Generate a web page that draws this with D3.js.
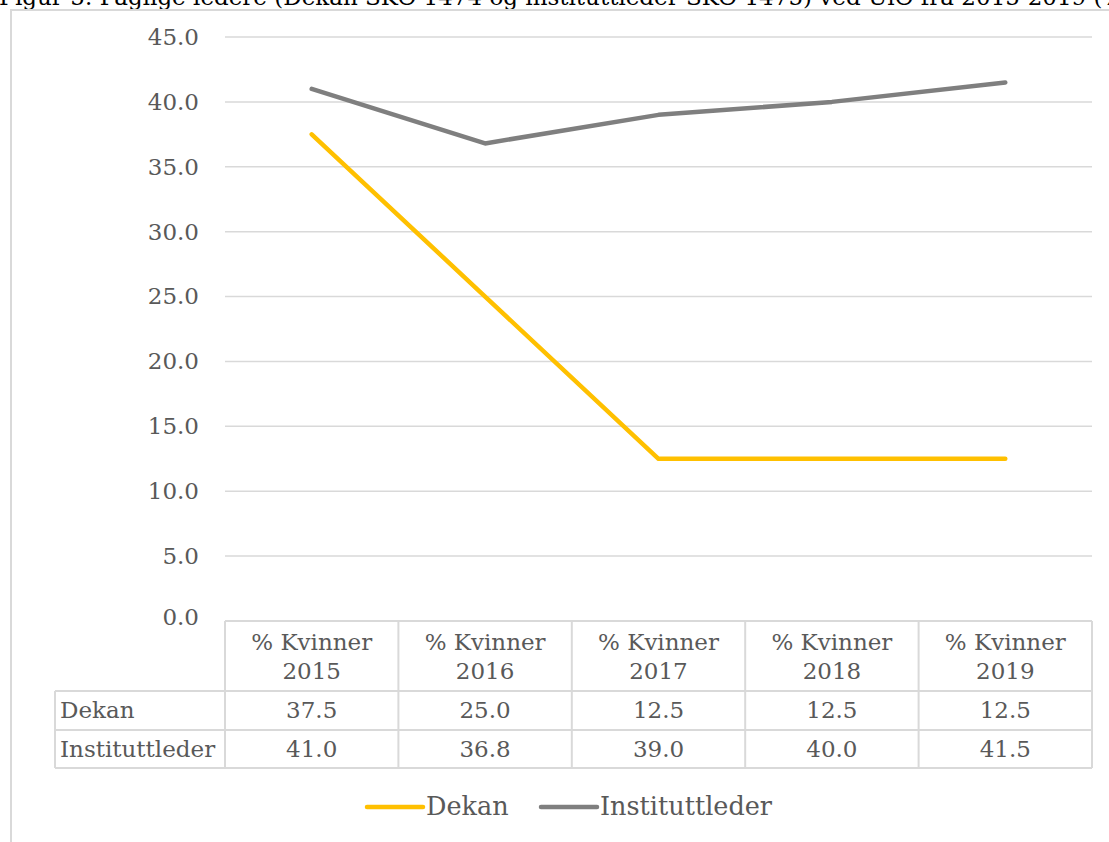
<!DOCTYPE html>
<html><head><meta charset="utf-8">
<script src="https://cdn.jsdelivr.net/npm/d3@7"></script>
<style>
html,body{margin:0;padding:0;background:#fff;overflow:hidden;}
svg{display:block;}
text{font-family:"DejaVu Serif",Georgia,serif;}
</style></head>
<body>
<script>
const title = "Figur 5: Faglige ledere (Dekan SKO 1474 og instituttleder SKO 1475) ved UiO fra 2015-2019 (%)";
const categories = ["% Kvinner 2015","% Kvinner 2016","% Kvinner 2017","% Kvinner 2018","% Kvinner 2019"];
const seriesNames = ["Dekan","Instituttleder"];
const dekan = [37.5, 25.0, 12.5, 12.5, 12.5];
const instituttleder = [41.0, 36.8, 39.0, 40.0, 41.5];
const yTicks = [0,5,10,15,20,25,30,35,40,45];
const colors = ["#FFC000","#7F7F7F"];

const W = 1109, H = 842;
const svg = d3.select("body").append("svg").attr("width",W).attr("height",H);

// title (cut off at the top, as in the reference)
svg.append("text").attr("x",-1).attr("y",5).attr("font-size",23).attr("fill","#000").text(title);

// outer frame
svg.append("rect").attr("x",11).attr("y",10).attr("width",1200).attr("height",900)
  .attr("fill","none").attr("stroke","#d9d9d9").attr("stroke-width",2);

const x = d3.scaleBand().domain(categories).range([225,1092]).padding(0);
const y = d3.scaleLinear().domain([0,45]).range([621,37]);

// gridlines
svg.append("g").selectAll("line").data(yTicks.filter(d=>d>0)).join("line")
  .attr("x1",225).attr("x2",1092).attr("y1",d=>y(d)).attr("y2",d=>y(d))
  .attr("stroke","#d9d9d9").attr("stroke-width",1.5);

// y axis labels
const yAxis = d3.axisLeft(y).tickValues(yTicks).tickFormat(d3.format(".1f")).tickSize(0).tickPadding(0);
const ga = svg.append("g").attr("transform","translate(199,0)").call(yAxis);
ga.select(".domain").remove();
ga.selectAll("text").attr("font-size",23).attr("fill","#595959")
  .attr("font-family","DejaVu Serif, serif").attr("dy","0.32em");
ga.selectAll(".tick").filter(d=>d===0).select("text").attr("dy","0.15em");

// lines
const seriesData = [dekan, instituttleder];
const line = d3.line().x((d,i)=>x(categories[i])+x.bandwidth()/2).y(d=>y(d));
svg.append("g").selectAll("path").data(seriesData).join("path")
  .attr("d",d=>line(d)).attr("fill","none")
  .attr("stroke",(d,i)=>colors[i]).attr("stroke-width",4.5)
  .attr("stroke-linejoin","round").attr("stroke-linecap","round");

// data table
const tColor = "#d9d9d9";
const rowTops = [621, 691, 730, 768];
const tbl = svg.append("g");
tbl.append("line").attr("x1",225).attr("x2",1092).attr("y1",rowTops[0]).attr("y2",rowTops[0]).attr("stroke",tColor).attr("stroke-width",2);
[1,2,3].forEach(k=>{
  tbl.append("line").attr("x1",55).attr("x2",1092).attr("y1",rowTops[k]).attr("y2",rowTops[k]).attr("stroke",tColor).attr("stroke-width",2);
});
const vx = categories.map(c=>x(c)).concat([x.range()[1]]);
vx.forEach(v=>{
  tbl.append("line").attr("x1",v).attr("x2",v).attr("y1",rowTops[0]).attr("y2",rowTops[3]).attr("stroke",tColor).attr("stroke-width",2);
});
tbl.append("line").attr("x1",55).attr("x2",55).attr("y1",rowTops[1]).attr("y2",rowTops[3]).attr("stroke",tColor).attr("stroke-width",2);

// header text
categories.forEach(c=>{
  const parts = c.split(" ");
  const t = tbl.append("text").attr("text-anchor","middle").attr("font-size",23).attr("fill","#595959");
  t.append("tspan").attr("x",x(c)+x.bandwidth()/2).attr("y",650).text(parts[0]+" "+parts[1]);
  t.append("tspan").attr("x",x(c)+x.bandwidth()/2).attr("y",679).text(parts[2]);
});
// row labels & values
const rowBase = [718, 757];
seriesNames.forEach((s,k)=>{
  tbl.append("text").attr("x",60).attr("y",rowBase[k]).attr("font-size",23).attr("fill","#595959").text(s);
  seriesData[k].forEach((v,i)=>{
    tbl.append("text").attr("x",x(categories[i])+x.bandwidth()/2).attr("y",rowBase[k])
      .attr("text-anchor","middle").attr("font-size",23).attr("fill","#595959").text(d3.format(".1f")(v));
  });
});

// legend
const lg = svg.append("g");
const legendItems = [{name:seriesNames[0],x0:367,col:colors[0]},{name:seriesNames[1],x0:541,col:colors[1]}];
legendItems.forEach(it=>{
  lg.append("line").attr("x1",it.x0).attr("x2",it.x0+56).attr("y1",807).attr("y2",807)
    .attr("stroke",it.col).attr("stroke-width",4.5).attr("stroke-linecap","round");
  lg.append("text").attr("x",it.x0+59).attr("y",815).attr("font-size",25.5).attr("fill","#595959").text(it.name);
});
</script>
</body></html>
